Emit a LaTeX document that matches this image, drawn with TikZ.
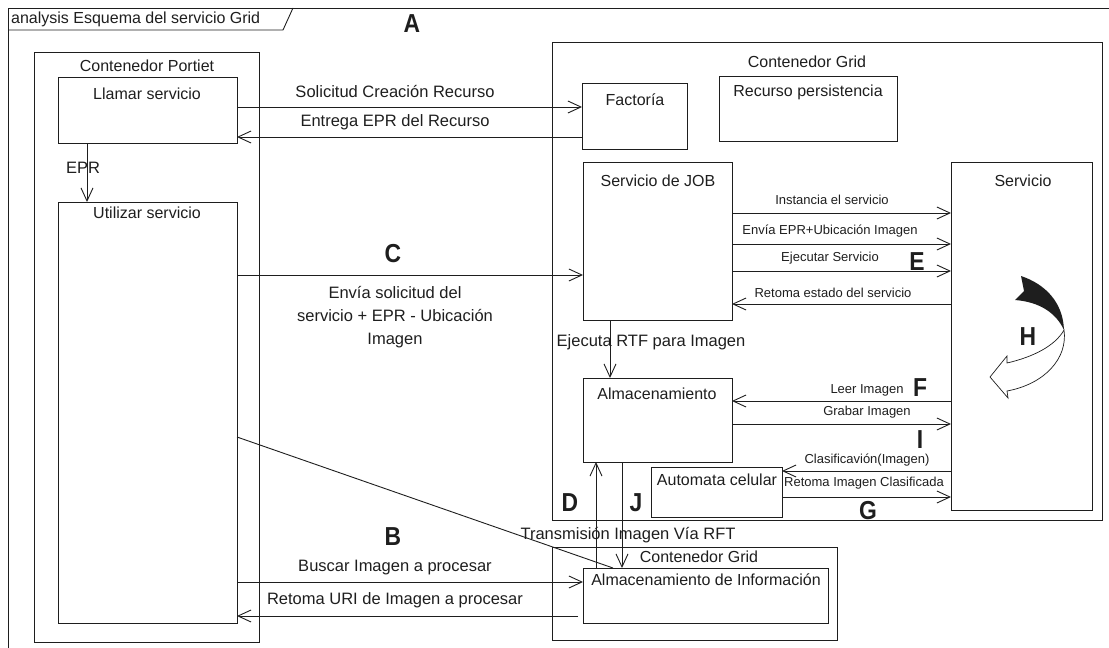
\documentclass[tikz,border=0pt]{standalone}
\usepackage{fontspec}
\setmainfont{Liberation Sans}
\newfontfamily\bigf{Liberation Sans}[FakeStretch=0.88]
\usetikzlibrary{arrows.meta}
\definecolor{lc}{RGB}{30,30,30}
\begin{document}
\begin{tikzpicture}[x=1pt,y=-1pt,
  box/.style={draw=lc, line width=0.9pt, anchor=north west, inner sep=0pt, outer sep=0pt},
  ttl/.style={font=\fontsize{16}{18}\selectfont, inner sep=1pt, text=lc},
  lbl/.style={font=\fontsize{16.5}{23}\selectfont, inner sep=1pt, text=lc, align=center},
  sml/.style={font=\fontsize{13}{15}\selectfont, inner sep=1pt, text=lc},
  big/.style={font=\bigf\fontsize{26}{28}\selectfont\bfseries, inner sep=0pt, text=lc},
  ln/.style={draw=lc, line width=0.9pt},
  arr/.style={draw=lc, line width=0.9pt, -{Straight Barb[length=13pt,width=12pt,line width=0.9pt]}}
]
\useasboundingbox (0,0) rectangle (1109,648);
% frame
\draw[ln] (8,648) -- (8,8) -- (1109,8);
\draw[ln] (8,30) -- (283,30) -- (293,8);
\node[ttl, anchor=west] (hdr) at (10,19) {analysis Esquema del servicio Grid};

% boxes
\node[box, minimum width=225pt, minimum height=590pt] (portiet) at (34,52) {};
\node[ttl] (portietT) at (147,66) {Contenedor Portiet};
\node[box, minimum width=179pt, minimum height=66pt] (llamar) at (58,77) {};
\node[ttl] (llamarT) at (147,94) {Llamar servicio};
\node[box, minimum width=179pt, minimum height=421pt] (utilizar) at (58,202) {};
\node[ttl] (utilizarT) at (147,213) {Utilizar servicio};

\node[box, minimum width=550pt, minimum height=478pt] (grid) at (552,42) {};
\node[ttl] (gridT) at (807,62) {Contenedor Grid};
\node[box, minimum width=105pt, minimum height=66pt] (factoria) at (582,83) {};
\node[ttl] (factoriaT) at (635,100) {Factoría};
\node[box, minimum width=178pt, minimum height=65pt] (recurso) at (719,76) {};
\node[ttl] (recursoT) at (808,92) {Recurso persistencia};
\node[box, minimum width=149pt, minimum height=158pt] (job) at (583,162) {};
\node[ttl] (jobT) at (658,181) {Servicio de JOB};
\node[box, minimum width=141pt, minimum height=348pt] (servicio) at (951,162) {};
\node[ttl] (servicioT) at (1023,181) {Servicio};
\node[box, minimum width=149pt, minimum height=84pt] (almac) at (583,378) {};
\node[ttl] (almacT) at (657,394) {Almacenamiento};
\node[box, minimum width=131pt, minimum height=50pt] (automata) at (651,467) {};
\node[ttl] (automataT) at (717,480) {Automata celular};

\node[box, minimum width=285pt, minimum height=93pt] (grid2) at (552,547) {};
\node[ttl] (grid2T) at (699,557) {Contenedor Grid};
\node[box, minimum width=245pt, minimum height=55pt] (info) at (583,568) {};
\node[ttl] (infoT) at (706,580) {Almacenamiento de Información};

% left-right connectors
\draw[arr] (llamar.east |- 0,107) -- (factoria.west |- 0,107);
\node[lbl] (l1) at (395,92) {Solicitud Creación Recurso};
\draw[arr] (factoria.west |- 0,137) -- (llamar.east |- 0,137);
\node[lbl] (l2) at (395,122) {Entrega EPR del Recurso};
\node[big] (A) at (412,24) {A};

\draw[arr] (llamar.south -| 87,0) -- (utilizar.north -| 87,0);
\node[lbl, anchor=center] (epr) at (83,168) {EPR};

\draw[arr] (utilizar.east |- 0,275) -- (job.west |- 0,275);
\node[big] (C) at (393,254) {C};
\node[lbl, anchor=north] (l3) at (395,285) {Envía solicitud del\\servicio + EPR - Ubicación\\Imagen};

% JOB <-> Servicio
\draw[arr] (job.east |- 0,213) -- (servicio.west |- 0,213);
\node[sml] (s1) at (832,200) {Instancia el servicio};
\draw[arr] (job.east |- 0,244) -- (servicio.west |- 0,244);
\node[sml] (s2) at (830,231) {Envía EPR+Ubicación Imagen};
\draw[arr] (job.east |- 0,271) -- (servicio.west |- 0,271);
\node[sml] (s3) at (830,258) {Ejecutar Servicio};
\node[big] (E) at (917,262) {E};
\draw[arr] (servicio.west |- 0,304) -- (job.east |- 0,304);
\node[sml] (s4) at (833,293) {Retoma estado del servicio};

\draw[arr] (job.south -| 610,0) -- (almac.north -| 610,0);
\node[lbl] (l4) at (651,342) {Ejecuta RTF para Imagen};

% Almacenamiento <-> Servicio
\draw[arr] (servicio.west |- 0,401) -- (almac.east |- 0,401);
\node[sml] (s5) at (867,390) {Leer Imagen};
\node[big] (F) at (920,388) {F};
\draw[arr] (almac.east |- 0,424) -- (servicio.west |- 0,424);
\node[sml] (s6) at (867,412) {Grabar Imagen};
\node[big] (I) at (920,440) {I};
\draw[arr] (servicio.west |- 0,471) -- (automata.east |- 0,471);
\node[sml] (s7) at (867,460) {Clasificavión(Imagen)};
\draw[arr] (automata.east |- 0,497) -- (servicio.west |- 0,497);
\node[sml] (s8) at (864,483) {Retoma Imagen Clasificada};
\node[big] (G) at (868,511) {G};

% D / J
\draw[arr] (info.north -| 596,0) -- (almac.south -| 596,0);
\draw[arr] (almac.south -| 622,0) -- (info.north -| 622,0);
\node[big] (D) at (570,503) {D};
\node[big] (J) at (636,503) {J};
\node[lbl] (l5) at (628,535) {Transmisión Imagen Vía RFT};

% diagonal
\draw[ln] (utilizar.east |- 0,437) -- (info.north -| 613,0);

% bottom connectors
\node[big] (B) at (393,537) {B};
\draw[arr] (utilizar.east |- 0,582) -- (info.west |- 0,582);
\node[lbl] (l6) at (395,568) {Buscar Imagen a procesar};
\coordinate (uri) at (578,616);
\draw[arr] (uri) -- (utilizar.east |- uri);
\node[lbl] (l7) at (395,600) {Retoma URI de Imagen a procesar};

% H rotating arrow
\fill[lc] (1021,276) .. controls (1045,284) and (1063,302) .. (1064,330)
  .. controls (1056,313) and (1040,302) .. (1015,300) -- (1024,291) -- cycle;
\draw[draw=lc, line width=0.7pt, fill=white] (1064,330) .. controls (1068,358) and (1045,384) .. (1007,391)
  -- (1008,398) -- (990,377) -- (1007,356) -- (1007,363)
  .. controls (1033,357) and (1055,346) .. (1064,330) -- cycle;
\node[big] (H) at (1028,337) {H};
\end{tikzpicture}
\end{document}
